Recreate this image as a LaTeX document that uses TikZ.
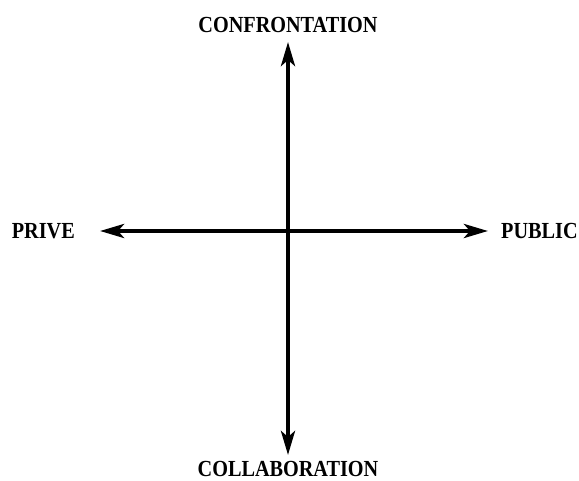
\documentclass[tikz,border=0pt]{standalone}
\usepackage{fontspec}
\setmainfont{Liberation Serif}[FakeStretch=0.88]
\usetikzlibrary{positioning,arrows.meta}
\begin{document}
\begin{tikzpicture}[
  x=1pt, y=-1pt,
  node distance=10pt,
  every node/.style={
    inner sep=0pt,
    font=\fontsize{23}{26}\selectfont\bfseries
  },
  axis/.style={{Stealth[length=24pt,width=14pt,inset=6pt]}-{Stealth[length=24pt,width=14pt,inset=6pt]}, line width=4pt}
]
\useasboundingbox (0,0) rectangle (579,481);
\coordinate (top) at (288,42);
\coordinate (bottom) at (288,455);
\coordinate (west) at (100,231);
\coordinate (east) at (488,231);
\node (confrontation) [above=9pt of top] {CONFRONTATION};
\node (collaboration) [below=6pt of bottom] {COLLABORATION};
\node (prive) [left=25pt of west] {PRIVE};
\node (public) [right=13pt of east] {PUBLIC};
\draw[axis] (bottom) -- (top);
\draw[axis] (west) -- (east);
\end{tikzpicture}
\end{document}
